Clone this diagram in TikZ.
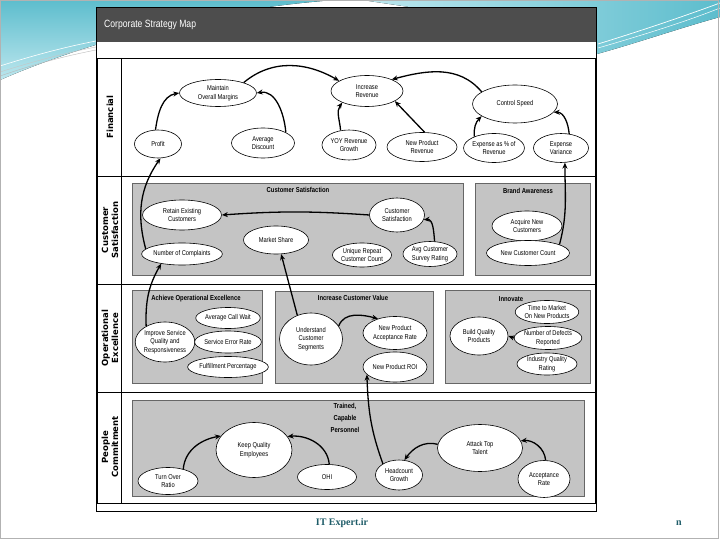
\documentclass[tikz,border=0pt]{standalone}
\usepackage{fontspec}
\setmainfont{Liberation Sans}
\newfontfamily\narrowf{Liberation Sans}[FakeStretch=0.82]
\newfontfamily\labf{DejaVu Sans}
\newfontfamily\footf{Liberation Serif}
\usetikzlibrary{shapes.geometric,arrows.meta}
\definecolor{hdr}{HTML}{4D4D4D}
\definecolor{pnl}{HTML}{C4C4C4}
\definecolor{tealA}{HTML}{5DBDCD}
\definecolor{tealB}{HTML}{BDE7EE}
\definecolor{footc}{HTML}{1E5C68}
\begin{document}
\begin{tikzpicture}[x=1pt,y=-1pt,
 oval/.style={ellipse,draw=black,line width=0.6pt,fill=white,inner sep=0pt,align=center,font=\narrowf\fontsize{7}{8.6}\selectfont},
 panel/.style={draw=black!60,fill=pnl,line width=0.5pt},
 ptitle/.style={font=\narrowf\bfseries\fontsize{7.2}{12}\selectfont,align=center,inner sep=0pt},
 rowlab/.style={rotate=90,font=\labf\bfseries\fontsize{8.5}{10}\selectfont,align=center,inner sep=0pt},
 arr/.style={-{Stealth[length=6pt,width=5pt]},line width=1.3pt},
 rule/.style={line width=0.7pt}
]
\useasboundingbox (0,0) rectangle (720,540);
\fill[white] (0,0) rectangle (720,540);
% decoration
\fill[top color=tealA, bottom color=tealB] (0,0) -- (335,0) .. controls (200,10) and (80,45) .. (0,80) -- cycle;
\draw[gray!55,line width=0.4pt] (0,76) .. controls (35,64) and (65,56) .. (96,50);
\draw[gray!45,line width=0.4pt] (0,72) .. controls (35,61) and (65,53) .. (96,47);
\draw[white,line width=0.6pt] (0,66) .. controls (35,55) and (65,47) .. (96,41);
\fill[left color=tealB, right color=tealA] (362,0) -- (720,0) -- (720,17) .. controls (680,28) and (640,42) .. (597,54) -- (597,40) -- (430,10) -- cycle;
\draw[white,line width=0.7pt] (598,44) .. controls (650,28) and (690,14) .. (720,3);
\draw[white,line width=0.5pt] (598,48) .. controls (650,33) and (690,20) .. (720,8);
\draw[gray!60,line width=0.8pt] (0.5,0.5) rectangle (718,538.5);
% frame
\fill[white] (96,8) rectangle (596,511);
\fill[hdr] (96,8) rectangle (596,42);
\draw[line width=1pt] (96,8) rectangle (596,511);
\draw[rule] (97,58) rectangle (595,503);
\draw[rule] (121,58) -- (121,503);
\draw[rule] (97,176) -- (595,176);
\draw[rule] (97,284) -- (595,284);
\draw[rule] (97,392) -- (595,392);
\node[anchor=west,text=white,font=\narrowf\fontsize{10.5}{12}\selectfont,inner sep=0pt] (ttl) at (104,25) {Corporate Strategy Map};
% row labels
\node[rowlab] (lf) at (110,117) {Financial};
\node[rowlab] (lc) at (110,230) {Customer\\Satisfaction};
\node[rowlab] (lo) at (110,338) {Operational\\Excellence};
\node[rowlab] (lp) at (110,447) {People\\Commitment};
% panels
\draw[panel] (132,183) rectangle (463,275);
\draw[panel] (475,183) rectangle (590,275);
\draw[panel] (132,290) rectangle (262,383);
\draw[panel] (275,291) rectangle (433,383);
\draw[panel] (445,290) rectangle (590,383);
\draw[panel] (132,400) rectangle (584,496);
\node[ptitle] (t1) at (298,190) {Customer Satisfaction};
\node[ptitle] (t2) at (528,191) {Brand Awareness};
\node[ptitle] (t3) at (196,299) {Achieve Operational Excellence};
\node[ptitle] (t4) at (353,298) {Increase Customer Value};
\node[ptitle] (t5) at (511,299) {Innovate};
\node[ptitle] (t6) at (345,418) {Trained,\\Capable\\Personnel};
% financial
\node[oval,minimum width=77,minimum height=27] (mom) at (218,93) {Maintain\\Overall Margins};
\node[oval,minimum width=47,minimum height=28] (prof) at (158,144) {Profit};
\node[oval,minimum width=63,minimum height=30] (avd) at (263,143) {Average\\Discount};
\node[oval,minimum width=72,minimum height=31] (irev) at (367,91) {Increase\\Revenue};
\node[oval,minimum width=54,minimum height=30] (yoy) at (349,145) {YOY Revenue\\Growth};
\node[oval,minimum width=70,minimum height=29] (nprev) at (422,147) {New Product\\Revenue};
\node[oval,minimum width=85,minimum height=38] (cspd) at (515,104) {Control Speed};
\node[oval,minimum width=54,minimum height=29] (expr) at (494,148) {Expense as \% of\\Revenue};
\node[oval,minimum width=55,minimum height=29] (ev) at (561,148) {Expense\\Variance};
% customer
\node[oval,minimum width=79,minimum height=30] (rec) at (182,215) {Retain Existing\\Customers};
\node[oval,minimum width=79,minimum height=22] (noc) at (182,254) {Number of Complaints};
\node[oval,minimum width=65,minimum height=28] (ms) at (276,240) {Market Share};
\node[oval,minimum width=55,minimum height=34] (csn) at (397,215) {Customer\\Satisfaction};
\node[oval,minimum width=58,minimum height=24] (urc) at (362,255) {Unique Repeat\\Customer Count};
\node[oval,minimum width=54,minimum height=25] (acsr) at (430,254) {Avg Customer\\Survey Rating};
\node[oval,minimum width=70,minimum height=30] (anc) at (527,226) {Acquire New\\Customers};
\node[oval,minimum width=83,minimum height=25] (ncc) at (528,253) {New Customer Count};
% operational
\node[oval,minimum width=54,minimum height=40] (isq) at (165,342) {Improve Service\\Quality and\\Responsiveness};
\node[oval,minimum width=59,minimum height=21] (acw) at (228,318) {Average Call Wait};
\node[oval,minimum width=59,minimum height=22] (ser) at (228,342) {Service Error Rate};
\node[oval,minimum width=64,minimum height=21] (fp) at (228,367) {Fulfillment Percentage};
\node[oval,minimum width=63,minimum height=52] (ucs) at (311,339) {Understand\\Customer\\Segments};
\node[oval,minimum width=64,minimum height=33] (npar) at (395,333) {New Product\\Acceptance Rate};
\node[oval,minimum width=64,minimum height=30] (nproi) at (395,367) {New Product ROI};
\node[oval,minimum width=58,minimum height=38] (bqp) at (479,336) {Build Quality\\Products};
\node[oval,minimum width=62,minimum height=23] (ttm) at (547,312) {Time to Market\\On New Products};
\node[oval,minimum width=62,minimum height=23] (ndr) at (548,338) {Number of Defects\\Reported};
\node[oval,minimum width=60,minimum height=22] (iqr) at (547,364) {Industry Quality\\Rating};
% people
\node[oval,minimum width=76,minimum height=55] (kqe) at (254,450) {Keep Quality\\Employees};
\node[oval,minimum width=60,minimum height=27] (tor) at (168,481) {Turn Over\\Ratio};
\node[oval,minimum width=59,minimum height=25] (ohi) at (327,477) {OHI};
\node[oval,minimum width=47,minimum height=30] (hg) at (399,475) {Headcount\\Growth};
\node[oval,minimum width=85,minimum height=47] (att) at (480,448) {Attack Top\\Talent};
\node[oval,minimum width=52,minimum height=37] (ar) at (544,479) {Acceptance\\Rate};
% arrows financial
\draw[arr] (prof.100) to[out=82,in=190] (mom.west);
\draw[arr] (avd.25) to[out=95,in=10] (mom.east);
\draw[arr] (mom.22) to[out=40,in=150] (irev.160);
\draw[arr] (yoy.120) to[out=95,in=235] (irev.205);
\draw[arr] (nprev.80) -- (irev.-20);
\draw[arr] (cspd.160) to[out=130,in=15] (irev.25);
\draw[arr] (expr.150) to[out=95,in=225] (cspd.200);
\draw[arr] (ev.60) to[out=95,in=0] (cspd.-12);
\draw[arr] (ncc.15) to[out=75,in=-90] (ev.-75);
\draw[arr] (noc.172) to[out=105,in=235] (prof.-80);
% arrows customer
\draw[arr] (csn.west) to[bend right=4] (rec.east);
\draw[arr] (acsr.70) to[out=95,in=5] (csn.-10);
\draw[arr] (ucs.120) -- (ms.-70);
\draw[arr] (isq.140) to[out=92,in=240] (noc.-155);
% arrows operational
\draw[arr] (ucs.25) to[out=70,in=165] (npar.140);
\draw[arr] (ndr.west) -- (bqp.east);
\draw[arr] (hg.145) to[out=110,in=-88] (nproi.-165);
% arrows people
\draw[arr] (tor.38) to[out=85,in=190] (kqe.157);
\draw[arr] (ohi.80) to[out=95,in=5] (kqe.22);
\draw[arr] (att.175) to[out=165,in=55] (hg.70);
\draw[arr] (ar.85) to[out=95,in=5] (att.10);
% footer
\node[font=\footf\bfseries\fontsize{10}{12}\selectfont,text=footc] (ft) at (342,523) {IT Expert.ir};
\node[font=\footf\bfseries\fontsize{10}{12}\selectfont,text=footc] (pg) at (679,523) {n};
\end{tikzpicture}
\end{document}
